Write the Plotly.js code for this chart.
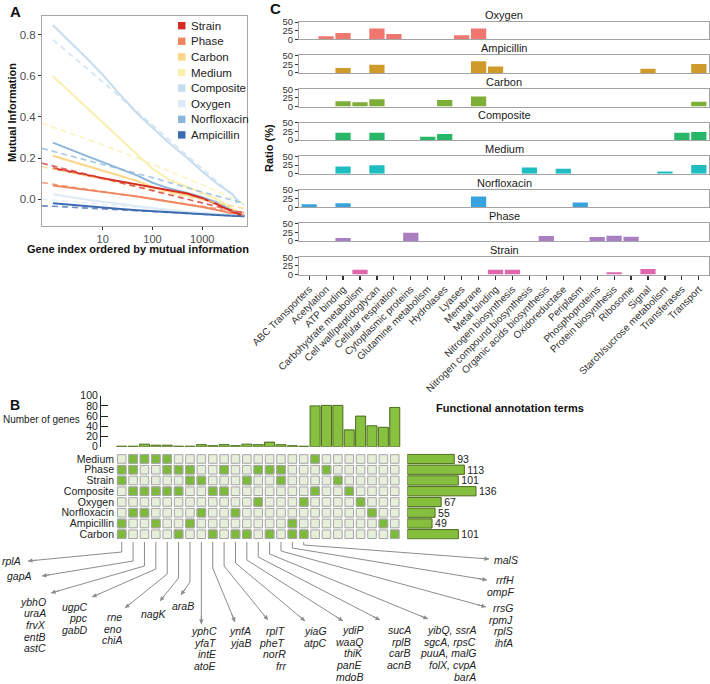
<!DOCTYPE html>
<html><head><meta charset="utf-8">
<script src="https://cdn.plot.ly/plotly-3.0.1.min.js"></script>
<style>html,body{margin:0;padding:0;background:#fff}#chart{width:710px;height:684px}</style>
</head><body><div id="chart"></div>
<script>
// ================= DATA =================
// Panel A : mutual information curves
const conditionsA = ['Strain','Phase','Carbon','Medium','Composite','Oxygen','Norfloxacin','Ampicillin'];
const colorsA = ['#d42e26','#f08660','#fcd585','#f9f0ae','#c6dcef','#dcebf6','#8db7da','#3e6cb0'];
const geneIndex = [1,2,5,10,20,50,100,200,500,1000,2000,4000,7000];
const compositeIndex = [1,2,5,10,20,50,100,200,500,1000,2000,3000,4000,4700,4900];
const miStrain      = [0.150,0.135,0.116,0.102,0.089,0.072,0.058,0.045,0.028,0.005,-0.025,-0.060,-0.082];
const miPhase       = [0.067,0.058,0.047,0.036,0.026,0.013,0.002,-0.010,-0.025,-0.038,-0.052,-0.068,-0.082];
const miCarbon      = [0.211,0.188,0.160,0.138,0.118,0.088,0.060,0.040,0.020,0.002,-0.020,-0.052,-0.082];
const miMedium      = [0.597,0.530,0.440,0.372,0.305,0.215,0.148,0.100,0.058,0.030,0.000,-0.045,-0.082];
const miComposite   = [0.845,0.775,0.680,0.605,0.520,0.415,0.345,0.280,0.200,0.135,0.075,0.045,0.025,0.005,-0.020];
const miOxygen      = [0.024,0.012,-0.002,-0.012,-0.022,-0.035,-0.044,-0.052,-0.062,-0.068,-0.074,-0.079,-0.082];
const miNorfloxacin = [0.275,0.245,0.208,0.180,0.152,0.115,0.080,0.055,0.030,0.010,-0.015,-0.055,-0.082];
const miAmpicillin  = [-0.019,-0.026,-0.034,-0.040,-0.046,-0.053,-0.058,-0.063,-0.069,-0.073,-0.077,-0.080,-0.083];
// dashed reference lines
const fitIndex = [0.6,1,10,100,1000,7000];
const fitStrain      = [0.175,0.162,0.102,0.042,-0.018,-0.068];
const fitPhase       = [0.081,0.073,0.037,0.001,-0.035,-0.065];
const fitCarbon      = [0.158,0.147,0.097,0.047,-0.003,-0.045];
const fitMedium      = [0.370,0.350,0.265,0.170,0.070,-0.020];
const fitComposite   = [null,0.775,0.570,0.360,0.150,-0.030];
const fitOxygen      = [0.000,-0.005,-0.025,-0.045,-0.065,-0.080];
const fitNorfloxacin = [0.247,0.233,0.168,0.105,0.035,-0.020];
const fitAmpicillin  = [-0.032,-0.034,-0.047,-0.060,-0.072,-0.083];

// Panel C : functional annotation ratios
const termCategories = ['ABC Transporters','Acetylation','ATP binding','Carbohydrate metabolism','Cell wall/peptidoglycan','Cellular respiration','Cytoplasmic proteins','Glutamine metabolism','Hydrolases','Lyases','Membrane','Metal binding','Nitrogen biosynthesis','Nitrogen compound biosynthesis','Organic acids biosynthesis','Oxidoreductase','Periplasm','Phosphoproteins','Protein biosynthesis','Ribosome','Signal','Starch/sucrose metabolism','Transferases','Transport'];
const facetNames = ['Oxygen','Ampicillin','Carbon','Composite','Medium','Norfloxacin','Phase','Strain'];
const facetColors = ['#f0776f','#d09a2b','#7dae37','#27b767','#1fbdc2','#37a3de','#a97fc1','#e067ad'];
const ratioOxygen      = [0,9,18,0,31,15,0,0,0,12,31,0,0,0,0,0,0,0,0,0,0,0,0,0];
const ratioAmpicillin  = [0,0,14,0,23.5,0,0,0,0,0,34,18.5,0,0,0,0,0,0,0,0,12,0,0,25.5];
const ratioCarbon      = [0,0,15,12,21,0,0,0,19,0,29,0,0,0,0,0,0,0,0,0,0,0,0,14];
const ratioComposite   = [0,0,21.5,0,21.5,0,0,10,17.5,0,0,0,0,0,0,0,0,0,0,0,0,0,21.5,23.5];
const ratioMedium      = [0,0,21,0,24.5,0,0,0,0,0,0,0,0,18,0,14,0,0,0,0,0,6.5,0,25.5];
const ratioNorfloxacin = [8.5,0,12,0,0,0,0,0,0,0,31,0,0,0,0,0,14,0,0,0,0,0,0,0];
const ratioPhase       = [0,0,8.5,0,0,0,23.5,0,0,0,0,0,0,0,14,0,0,11.5,15,12,0,0,0,0];
const ratioStrain      = [0,0,0,13.5,0,0,0,0,0,0,0,13.5,13.5,0,0,0,0,0,6.5,0,16,0,0,0];

// Panel B : UpSet plot
const setNames = ['Medium','Phase','Strain','Composite','Oxygen','Norfloxacin','Ampicillin','Carbon'];
const setSizes = [93,113,101,136,67,55,49,101];
const intersectionCounts = [1,1,5,3,3,1,1,4,2,4,2,5,4,9,4,2,1,80,81,81,33,60,41,38,77];
const memberMedium      = [0,1,1,1,1,0,0,0,0,0,0,0,0,0,0,0,0,1,0,0,0,0,0,0,0];
const memberPhase       = [1,1,0,0,1,1,1,0,0,1,0,0,1,1,1,0,0,0,1,0,0,0,0,0,0];
const memberStrain      = [1,0,0,0,0,0,1,1,0,0,0,1,0,0,1,0,0,0,0,1,0,0,0,0,0];
const memberComposite   = [0,1,1,1,1,1,0,0,1,1,0,0,0,0,0,0,0,1,0,0,1,0,0,0,0];
const memberOxygen      = [0,0,0,0,0,0,0,0,0,0,0,0,1,0,0,0,1,0,0,0,0,1,0,0,0];
const memberNorfloxacin = [0,1,1,0,0,0,0,1,0,0,1,0,0,0,0,0,0,0,0,0,0,0,1,0,0];
const memberAmpicillin  = [1,0,0,1,0,0,1,0,0,0,0,0,0,0,0,1,0,0,0,0,0,0,0,1,0];
const memberCarbon      = [1,0,0,0,0,1,0,0,1,0,1,1,0,1,0,1,1,0,0,0,0,0,0,0,1];
const geneGroups = [['rplA'],['gapA'],['ybhO','uraA','frvX','entB','astC'],['ugpC','ppc','gabD'],['rne','eno','chiA'],['nagK'],['araB'],['yphC','yfaT','intE','atoE'],['ynfA','yjaB'],['rplT','pheT','norR','frr'],['yiaG','atpC'],['ydiP','waaQ','thiK','panE','mdoB'],['sucA','rplB','carB','acnB'],['yibQ, ssrA','sgcA, rpsC','puuA, malG','folX, cvpA','barA'],['rrsG','rpmJ','rplS','ihfA'],['rrfH','ompF'],['malS']];

// ================= BUILD =================
const FONT = '"Liberation Sans", Arial, Helvetica, sans-serif';
const W = 710, H = 684;
const PX = p => p / W, PY = p => 1 - p / H;
const dx = (a, b) => [a / W, b / W];
const dy = (t, b) => [1 - b / H, 1 - t / H];

const traces = [];
const annotations = [];
const shapes = [];

// ---- Panel A ----
const miByCond = {Strain: miStrain, Phase: miPhase, Carbon: miCarbon, Medium: miMedium, Composite: miComposite, Oxygen: miOxygen, Norfloxacin: miNorfloxacin, Ampicillin: miAmpicillin};
const fitByCond = {Strain: fitStrain, Phase: fitPhase, Carbon: fitCarbon, Medium: fitMedium, Composite: fitComposite, Oxygen: fitOxygen, Norfloxacin: fitNorfloxacin, Ampicillin: fitAmpicillin};
const drawOrder = ['Oxygen','Composite','Medium','Carbon','Norfloxacin','Phase','Ampicillin','Strain'];
drawOrder.forEach(c => {
  const col = colorsA[conditionsA.indexOf(c)];
  traces.push({type: 'scatter', mode: 'lines', x: c === 'Composite' ? compositeIndex : geneIndex, y: miByCond[c],
    line: {color: col, width: 2}, xaxis: 'x', yaxis: 'y', hoverinfo: 'skip'});
});
drawOrder.forEach(c => {
  const col = colorsA[conditionsA.indexOf(c)];
  traces.push({type: 'scatter', mode: 'lines', x: fitIndex, y: fitByCond[c], opacity: 0.75,
    line: {color: col, width: 1.7, dash: '6px,4px'}, xaxis: 'x', yaxis: 'y', hoverinfo: 'skip'});
});
// legend (drawn)
conditionsA.forEach((c, i) => {
  const yy = 25.7 + 15.6 * i;
  shapes.push({type: 'rect', xref: 'paper', yref: 'paper', x0: PX(178), x1: PX(185.5), y0: PY(yy - 3.7), y1: PY(yy + 3.7),
    fillcolor: colorsA[i], line: {width: 0}});
  annotations.push({xref: 'paper', yref: 'paper', x: PX(189.5), y: PY(yy), xanchor: 'left', yanchor: 'middle', showarrow: false,
    text: c, font: {size: 11.5, color: '#222'}});
});

// ---- Panel C ----
const ratios = [ratioOxygen, ratioAmpicillin, ratioCarbon, ratioComposite, ratioMedium, ratioNorfloxacin, ratioPhase, ratioStrain];
const layoutAxes = {};
facetNames.forEach((f, i) => {
  const n = i + 2;
  const top = 21.7 + 33.6 * i, bot = top + 17.6;
  traces.push({type: 'bar', x: termCategories, y: ratios[i], marker: {color: facetColors[i]}, width: 0.9,
    xaxis: 'x' + n, yaxis: 'y' + n, hoverinfo: 'skip'});
  layoutAxes['xaxis' + n] = {domain: dx(299, 709), type: 'category', categoryorder: 'array', categoryarray: termCategories,
    range: [-0.6, 23.6], showline: true, mirror: true, linecolor: '#a3a3a3', linewidth: 1, showgrid: false, zeroline: false,
    anchor: 'y' + n, showticklabels: i === 7, ticks: i === 7 ? 'outside' : '', ticklen: 4, tickcolor: '#333', tickwidth: 1.2,
    tickangle: -45, tickfont: {size: 10, color: '#333'}};
  layoutAxes['yaxis' + n] = {domain: dy(top, bot), range: [0, 51], tickvals: [0, 25, 50], ticks: 'outside', ticklen: 3,
    tickcolor: '#333', tickfont: {size: 9.5, color: '#333'}, showline: true, mirror: true, linecolor: '#a3a3a3', linewidth: 1,
    showgrid: false, zeroline: false, anchor: 'x' + n};
  annotations.push({xref: 'paper', yref: 'paper', x: PX(504), y: PY(top - 7.2), xanchor: 'center', yanchor: 'middle',
    showarrow: false, text: f, font: {size: 11, color: '#1a1a1a'}});
});

// ---- Panel B ----
const members = [memberMedium, memberPhase, memberStrain, memberComposite, memberOxygen, memberNorfloxacin, memberAmpicillin, memberCarbon];
const colIdx = intersectionCounts.map((_, i) => i);
traces.push({type: 'bar', x: colIdx, y: intersectionCounts, width: 0.88, xaxis: 'x10', yaxis: 'y10',
  marker: {color: '#88c040', line: {color: '#4b6a1e', width: 1}}, hoverinfo: 'skip'});
const lx = [], ly = [], gx = [], gy = [];
members.forEach((row, r) => row.forEach((v, c) => {
  lx.push(c); ly.push(r);
  if (v) { gx.push(c); gy.push(r); }
}));
traces.push({type: 'scatter', mode: 'markers', x: lx, y: ly, xaxis: 'x11', yaxis: 'y11', hoverinfo: 'skip',
  marker: {symbol: 'square', size: 8.6, color: '#e5efd9', line: {color: '#a6a6a6', width: 1}}});
traces.push({type: 'scatter', mode: 'markers', x: gx, y: gy, xaxis: 'x11', yaxis: 'y11', hoverinfo: 'skip',
  marker: {symbol: 'square', size: 8.6, color: '#7dba3a', line: {color: '#a6a6a6', width: 1}}});
traces.push({type: 'bar', orientation: 'h', x: setSizes, y: setNames.map((_, i) => i), xaxis: 'x12', yaxis: 'y12',
  width: 0.86, marker: {color: '#86bf3d', line: {color: '#4b6a1e', width: 1}}, text: setSizes.map(String),
  textposition: 'outside', textfont: {size: 10.5, color: '#222'}, cliponaxis: false, constraintext: 'none', hoverinfo: 'skip'});

// matrix geometry
const mx0 = 115, mx1 = 401, mr0 = -0.59, mr1 = 24.55;
const colPx = c => mx0 + (c - mr0) / (mr1 - mr0) * (mx1 - mx0);

// leader lines & gene labels (layout positions)
const labelPos = [
  {x: 22, y: 561, a: 'right', tip: [28, 561], bend: 552},
  {x: 33, y: 576, a: 'right', tip: [42, 576], bend: 561},
  {x: 47, y: 601.5, a: 'right', tip: [51, 593], bend: 566},
  {x: 88.5, y: 606.5, a: 'right', tip: [92, 597], bend: 569},
  {x: 123, y: 617, a: 'right', tip: [125, 608], bend: 574},
  {x: 168, y: 614, a: 'right', tip: [160, 601], bend: 578},
  {x: 195, y: 606, a: 'right', tip: [181, 595], bend: 582},
  {x: 218.5, y: 631, a: 'right', tip: [null, 624], bend: null},
  {x: 252, y: 631, a: 'right', tip: [235, 622], bend: 568},
  {x: 287, y: 631, a: 'right', tip: [268, 620], bend: 566},
  {x: 328, y: 631, a: 'right', tip: [305, 621], bend: 563},
  {x: 364, y: 630, a: 'right', tip: [343, 621], bend: 560},
  {x: 412, y: 630, a: 'right', tip: [380, 620], bend: 557},
  {x: 477, y: 630, a: 'right', tip: [428, 619], bend: 554},
  {x: 514, y: 608, a: 'right', tip: [486, 607], bend: 551},
  {x: 515, y: 580, a: 'right', tip: [487, 580], bend: 548},
  {x: 493, y: 559.5, a: 'left', tip: [489, 559], bend: 545}
];
const LINE_SP = 11.7;
geneGroups.forEach((genes, g) => {
  const p = labelPos[g];
  const cx = colPx(g);
  const tx = p.tip[0] === null ? cx : p.tip[0];
  const ty = p.tip[1];
  const by = p.bend === null ? 575 : p.bend;
  shapes.push({type: 'path', xref: 'paper', yref: 'paper',
    path: `M ${PX(cx)} ${PY(542)} L ${PX(cx)} ${PY(by)} L ${PX(tx)} ${PY(ty)}`,
    line: {color: '#8c8c8c', width: 1}});
  const ddx = tx - cx, ddy = ty - by, len = Math.hypot(ddx, ddy);
  annotations.push({xref: 'paper', yref: 'paper', x: PX(tx), y: PY(ty), axref: 'pixel', ayref: 'pixel',
    ax: -ddx / len * 10, ay: -ddy / len * 10, text: '', showarrow: true, arrowhead: 2, arrowsize: 0.9,
    arrowwidth: 1, arrowcolor: '#8c8c8c', standoff: 0, startstandoff: 0});
  genes.forEach((gn, k) => {
    annotations.push({xref: 'paper', yref: 'paper', x: PX(p.x), y: PY(p.y + k * LINE_SP), xanchor: p.a, yanchor: 'middle',
      showarrow: false, text: '<i>' + gn + '</i>', font: {size: 10.5, color: '#222'}, borderpad: 0});
  });
});

// titles & letters
const addText = (text, x, y, opts) => annotations.push(Object.assign({xref: 'paper', yref: 'paper', x: PX(x), y: PY(y),
  showarrow: false, text: text, xanchor: 'center', yanchor: 'middle', font: {size: 11, color: '#111'}}, opts || {}));
addText('<b>A</b>', 8, 11, {xanchor: 'left', font: {size: 15, color: '#111'}});
addText('<b>B</b>', 9, 404.5, {xanchor: 'left', font: {size: 14, color: '#111'}, borderpad: 0});
addText('<b>C</b>', 268, 8, {xanchor: 'left', font: {size: 15, color: '#111'}});
addText('<b>Mutual Information</b>', 12, 113, {textangle: -90});
addText('<b>Gene index ordered by mutual information</b>', 138, 249.5);
addText('<b>Ratio (%)</b>', 269, 148, {textangle: -90});
addText('<b>Functional annotation terms</b>', 510, 408);
addText('Number of genes', 81, 419, {xanchor: 'right', font: {size: 10, color: '#222'}, borderpad: 0});

const layout = Object.assign({
  width: W, height: H, margin: {l: 0, r: 0, t: 0, b: 0}, paper_bgcolor: '#fff', plot_bgcolor: 'rgba(0,0,0,0)',
  showlegend: false, font: {family: FONT, size: 10, color: '#222'}, bargap: 0.1,
  xaxis: {type: 'log', domain: dx(42, 247), range: [-0.22, 3.9], tickvals: [10, 100, 1000], ticktext: ['10', '100', '1000'],
    ticks: 'outside', ticklen: 2.5, tickcolor: '#333', showline: true, mirror: true, linecolor: '#a6a6a6', linewidth: 1,
    showgrid: false, zeroline: false, tickfont: {size: 11, color: '#4d4d4d'}, anchor: 'y'},
  yaxis: {domain: dy(16, 226), range: [-0.13, 0.89], tickvals: [0, 0.2, 0.4, 0.6, 0.8], ticktext: ['0.0', '0.2', '0.4', '0.6', '0.8'],
    ticks: 'outside', ticklen: 3, tickcolor: '#333', showline: true, mirror: true, linecolor: '#a6a6a6', linewidth: 1,
    showgrid: false, zeroline: false, tickfont: {size: 11.5, color: '#4d4d4d'}, anchor: 'x'},
  xaxis10: {domain: dx(101, 401), range: [-1.82, 24.55], visible: false, anchor: 'y10'},
  yaxis10: {domain: dy(395.7, 446.7), range: [0, 100], tickvals: [0, 20, 40, 60, 80, 100], ticks: 'inside', ticklen: 7,
    tickcolor: '#222', showline: true, linecolor: '#222', linewidth: 1, showgrid: false, zeroline: false,
    tickfont: {size: 10.5, color: '#222'}, anchor: 'x10'},
  xaxis11: {domain: dx(mx0, mx1), range: [mr0, mr1], visible: false, anchor: 'y11'},
  yaxis11: {domain: dy(453.6, 539.6), range: [7.5, -0.5], tickvals: setNames.map((_, i) => i), ticktext: setNames,
    ticks: '', showline: false, showgrid: false, zeroline: false, tickfont: {size: 10.5, color: '#222'}, anchor: 'x11'},
  xaxis12: {domain: dx(407.3, 600), range: [0, 381.6], visible: false, anchor: 'y12'},
  yaxis12: {domain: dy(453.6, 539.6), range: [7.5, -0.5], visible: false, anchor: 'x12'},
  annotations: annotations, shapes: shapes
}, layoutAxes);

Plotly.newPlot('chart', traces, layout, {staticPlot: true, displayModeBar: false});
</script>
</body></html>
